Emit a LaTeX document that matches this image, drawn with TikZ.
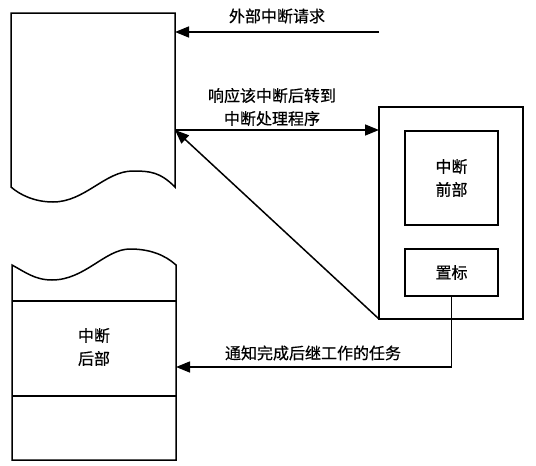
\documentclass[tikz,border=0pt]{standalone}
\usepackage{fontspec}
\setmainfont[FakeBold=0.6,AutoFakeBold=0.6]{Noto Sans CJK SC}
\usetikzlibrary{arrows.meta}
\tikzset{
  ln/.style={line width=1.5pt, line join=miter},
  arr/.style={ln, -{Triangle[length=14pt,width=11pt]}},
  box/.style={draw, ln, inner sep=0pt, outer sep=0pt, anchor=north west},
  lbl/.style={font=\fontsize{16}{23}\selectfont\bfseries, align=center, inner sep=0pt}
}
\begin{document}
\begin{tikzpicture}[x=1pt,y=-1pt]
\useasboundingbox (0,0) rectangle (536,466);
% top program
\draw[ln] (11,13) -- (175,13) -- (175,187)
  .. controls (160,172) and (150,171) .. (133,171)
  .. controls (105,171) and (85,202) .. (53,202)
  .. controls (35,202) and (20,195) .. (11,187) -- cycle;
\coordinate (d1a) at (175,32);
\coordinate (d1b) at (175,130);
\coordinate (ext) at (379,32);
% bottom program
\draw[ln] (12,265)
  .. controls (25,272) and (35,280) .. (52,280)
  .. controls (85,280) and (105,249) .. (130,249)
  .. controls (150,249) and (165,255) .. (176,265)
  -- (176,460) -- (12,460) -- cycle;
\draw[ln] (12,301) -- (176,301);
\draw[ln] (12,396) -- (176,396);
\node[lbl] (back) at (94,347) {中断\\后部};
\coordinate (d2) at (176,367);
% interrupt routine
\node[box, minimum width=144pt, minimum height=212pt] (big) at (379,107) {};
\node[box, minimum width=93pt, minimum height=94pt] (front) at (405,131) {};
\node[lbl] at (front.center) {中断\\前部};
\node[box, minimum width=93pt, minimum height=47pt] (flag) at (405,249) {};
\node[lbl] at (flag.center) {置标};
% connectors
\draw[arr] (ext) -- (d1a);
\draw[arr] (d1b) -- (d1b -| big.west);
\draw[arr] (big.south west) -- (d1b);
\draw[arr] (flag.south) |- (d2);
% labels
\node[lbl] (l1) at (277,16) {外部中断请求};
\node[lbl] (l2) at (272,107) {响应该中断后转到\\中断处理程序};
\node[lbl] (l3) at (313,353) {通知完成后继工作的任务};
\end{tikzpicture}
\end{document}
